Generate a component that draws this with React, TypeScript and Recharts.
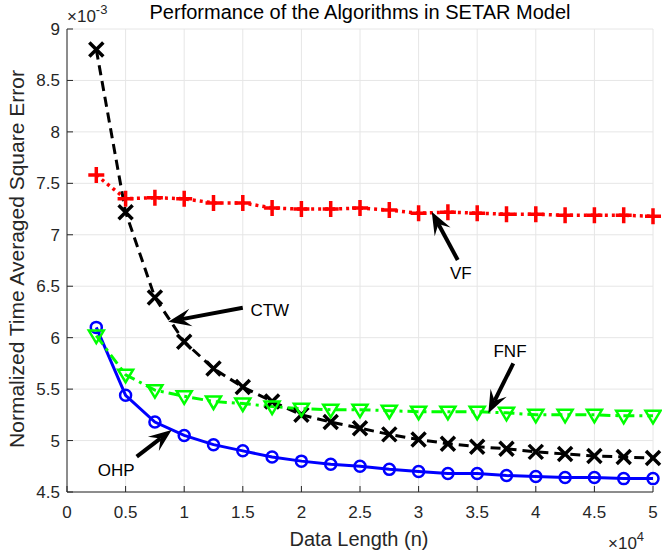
import React from 'react';
import { LineChart, Line, XAxis, YAxis, CartesianGrid, ReferenceLine, ReferenceDot, Label } from 'recharts';

// data length in units of 1e4, errors in units of 1e-3
const dataLength = [0.25, 0.5, 0.75, 1, 1.25, 1.5, 1.75, 2, 2.25, 2.5, 2.75, 3, 3.25, 3.5, 3.75, 4, 4.25, 4.5, 4.75, 5];
const ohp = [6.1, 5.44, 5.18, 5.05, 4.96, 4.9, 4.84, 4.8, 4.77, 4.75, 4.72, 4.7, 4.68, 4.68, 4.66, 4.65, 4.64, 4.64, 4.63, 4.63];
const ctw = [8.8, 7.22, 6.39, 5.96, 5.7, 5.52, 5.38, 5.25, 5.18, 5.12, 5.06, 5.01, 4.97, 4.94, 4.92, 4.89, 4.87, 4.85, 4.84, 4.83];
const fnf = [6.02, 5.64, 5.49, 5.43, 5.38, 5.36, 5.33, 5.31, 5.3, 5.3, 5.29, 5.28, 5.28, 5.28, 5.27, 5.25, 5.25, 5.25, 5.24, 5.24];
const vf = [7.58, 7.35, 7.36, 7.35, 7.31, 7.31, 7.26, 7.25, 7.25, 7.26, 7.24, 7.21, 7.22, 7.21, 7.2, 7.2, 7.19, 7.19, 7.19, 7.18];

const xTicks = [0, 0.5, 1, 1.5, 2, 2.5, 3, 3.5, 4, 4.5, 5];
const yTicks = [4.5, 5, 5.5, 6, 6.5, 7, 7.5, 8, 8.5, 9];

// arrow annotations: tail, head and text anchor in data units
const notes = [
  { name: 'CTW', from: [1.5, 6.29], to: [0.864, 6.155], at: [1.73, 6.27] },
  { name: 'VF', from: [3.334, 6.755], to: [3.112, 7.225], at: [3.36, 6.63] },
  { name: 'FNF', from: [3.808, 5.751], to: [3.595, 5.265], at: [3.78, 5.87] },
  { name: 'OHP', from: [0.595, 4.844], to: [0.893, 5.103], at: [0.42, 4.71] },
];

const rows = dataLength.map((n, i) => ({ n, ohp: ohp[i], ctw: ctw[i], fnf: fnf[i], vf: vf[i] }));

const FONT = '"Liberation Sans", Arial, Helvetica, sans-serif';
const PLOT_LEFT = 67;
const PLOT_BOTTOM = 492;

const Circle = (p: any) => (
  <circle key={p.index} cx={p.cx} cy={p.cy} r={5.5} fill="none" stroke="#0000ff" strokeWidth={2.5} />
);
const TriDown = (p: any) => (
  <path
    key={p.index}
    d={`M${p.cx - 7.5},${p.cy - 5}L${p.cx + 7.5},${p.cy - 5}L${p.cx},${p.cy + 7.5}Z`}
    fill="none"
    stroke="#00ff00"
    strokeWidth={2.5}
  />
);
const Cross = (p: any) => (
  <path
    key={p.index}
    d={`M${p.cx - 7},${p.cy - 7}L${p.cx + 7},${p.cy + 7}M${p.cx - 7},${p.cy + 7}L${p.cx + 7},${p.cy - 7}`}
    stroke="#000"
    strokeWidth={3.5}
  />
);
const Plus = (p: any) => (
  <path
    key={p.index}
    d={`M${p.cx - 8},${p.cy}L${p.cx + 8},${p.cy}M${p.cx},${p.cy - 8}L${p.cx},${p.cy + 8}`}
    stroke="#ff0000"
    strokeWidth={3.5}
  />
);

const Arrow = (p: any) => {
  const { x1, y1, x2, y2 } = p;
  const dx = x2 - x1;
  const dy = y2 - y1;
  const len = Math.hypot(dx, dy) || 1;
  const ux = dx / len;
  const uy = dy / len;
  const nx = -uy;
  const ny = ux;
  const L = 23;
  const W = 9;
  const notch = 14;
  const bx = x2 - ux * L;
  const by = y2 - uy * L;
  const mx = x2 - ux * notch;
  const my = y2 - uy * notch;
  return (
    <g>
      <line x1={x1} y1={y1} x2={mx} y2={my} stroke="#000" strokeWidth={4} />
      <path
        d={`M${x2},${y2}L${bx + nx * W},${by + ny * W}L${mx},${my}L${bx - nx * W},${by - ny * W}Z`}
        fill="#000"
      />
    </g>
  );
};

const XTick = (p: any) => (
  <g>
    <line x1={p.x} x2={p.x} y1={PLOT_BOTTOM} y2={PLOT_BOTTOM - 6} stroke="#262626" />
    <text x={p.x} y={PLOT_BOTTOM + 26} textAnchor="middle" fontSize={17} fill="#262626" fontFamily={FONT}>
      {p.payload.value}
    </text>
  </g>
);

const YTick = (p: any) => (
  <g>
    <line x1={PLOT_LEFT} x2={PLOT_LEFT + 6} y1={p.y} y2={p.y} stroke="#262626" />
    <text x={PLOT_LEFT - 7} y={p.y + 6} textAnchor="end" fontSize={17} fill="#262626" fontFamily={FONT}>
      {p.payload.value}
    </text>
  </g>
);

export default function App() {
  return (
    <div style={{ position: 'absolute', left: 0, top: 0, width: 662, height: 557, background: '#fff' }}>
      <div
        style={{
          position: 'absolute',
          left: 67,
          top: 0,
          width: 586,
          textAlign: 'center',
          fontFamily: FONT,
          fontSize: 20,
          lineHeight: '24px',
          whiteSpace: 'nowrap',
          color: '#000',
        }}
      >
        Performance of the Algorithms in SETAR Model
      </div>
      <LineChart width={662} height={557} data={rows} margin={{ top: 29, right: 9, bottom: 0, left: 0 }}>
        <CartesianGrid stroke="#e6e6e6" strokeWidth={1} />
        <XAxis
          dataKey="n"
          type="number"
          domain={[0, 5]}
          ticks={xTicks}
          height={65}
          axisLine={{ stroke: '#262626' }}
          tickLine={false}
          tick={<XTick />}
          interval={0}
        >
          <Label
            content={() => (
              <g fontFamily={FONT} fill="#262626">
                <text x={359} y={546} textAnchor="middle" fontSize={20}>
                  Data Length (n)
                </text>
                <text x={608} y={549} fontSize={17}>
                  ×10
                  <tspan dy={-8} fontSize={13}>4</tspan>
                </text>
              </g>
            )}
          />
        </XAxis>
        <YAxis
          type="number"
          domain={[4.5, 9]}
          ticks={yTicks}
          width={67}
          axisLine={{ stroke: '#262626' }}
          tickLine={false}
          tick={<YTick />}
          interval={0}
        >
          <Label
            content={() => (
              <g fontFamily={FONT} fill="#262626">
                <text x={24} y={259} textAnchor="middle" fontSize={21} transform="rotate(-90 24 259)">
                  Normalized Time Averaged Square Error
                </text>
                <text x={67} y={22} fontSize={17}>
                  ×10
                  <tspan dy={-8} fontSize={13}>-3</tspan>
                </text>
              </g>
            )}
          />
        </YAxis>
        <Line dataKey="ohp" stroke="#0000ff" strokeWidth={3} dot={Circle} isAnimationActive={false} />
        <Line dataKey="ctw" stroke="#000" strokeWidth={3} strokeDasharray="10 6" dot={Cross} isAnimationActive={false} />
        <Line dataKey="fnf" stroke="#00ff00" strokeWidth={3} strokeDasharray="11 5 3 5" dot={TriDown} isAnimationActive={false} />
        <Line dataKey="vf" stroke="#ff0000" strokeWidth={3.5} strokeDasharray="3 4" dot={Plus} isAnimationActive={false} />
        {notes.map((a) => (
          <ReferenceLine
            key={'arrow-' + a.name}
            segment={[
              { x: a.from[0], y: a.from[1] },
              { x: a.to[0], y: a.to[1] },
            ]}
            shape={Arrow}
            ifOverflow="visible"
          />
        ))}
        {notes.map((a) => (
          <ReferenceDot
            key={'text-' + a.name}
            x={a.at[0]}
            y={a.at[1]}
            r={0}
            ifOverflow="visible"
            shape={(p: any) => (
              <text x={p.cx} y={p.cy + 6} textAnchor="middle" fontSize={17} fill="#000" fontFamily={FONT}>
                {a.name}
              </text>
            )}
          />
        ))}
      </LineChart>
    </div>
  );
}
